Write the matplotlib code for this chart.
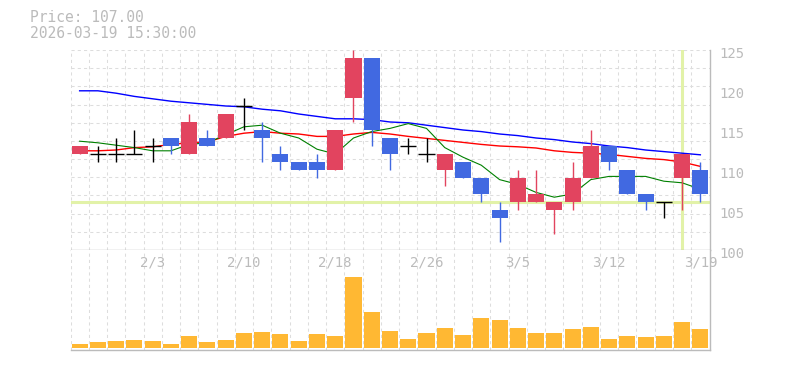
import matplotlib
matplotlib.use("Agg")
import matplotlib.pyplot as plt
import matplotlib.transforms as mtransforms
import numpy as np

# ---- data ----
dates = ["1/28", "1/29", "1/30", "2/2", "2/3", "2/4", "2/5", "2/6", "2/9", "2/10",
         "2/12", "2/13", "2/16", "2/17", "2/18", "2/19", "2/20", "2/24", "2/25", "2/26",
         "2/27", "3/2", "3/3", "3/4", "3/5", "3/6", "3/9", "3/10", "3/11", "3/12",
         "3/13", "3/16", "3/17", "3/18", "3/19"]
opens = [112, 112, 112, 112, 113, 114, 112, 114, 114, 118, 115, 112, 111, 111, 110, 119, 124, 114,
         113, 112, 110, 111, 109, 105, 106, 106, 105, 106, 109, 113, 110, 107, 106, 109, 110]
highs = [113, 113, 114, 115, 114, 114, 117, 115, 117, 119, 116, 113, 111, 112, 115, 125, 124, 114,
         114, 114, 112, 111, 109, 106, 110, 110, 106, 111, 115, 113, 110, 107, 106, 112, 111]
lows = [112, 111, 111, 112, 111, 112, 112, 113, 114, 115, 111, 110, 110, 109, 110, 116, 113, 110,
        112, 111, 108, 109, 106, 101, 105, 106, 102, 105, 109, 110, 107, 105, 104, 105, 106]
closes = [113, 112, 112, 112, 113, 113, 116, 113, 117, 118, 114, 111, 110, 110, 115, 124, 115, 112,
          113, 112, 112, 109, 107, 104, 109, 107, 106, 109, 113, 111, 107, 106, 106, 112, 107]
volumes = [110, 170, 200, 230, 200, 110, 350, 170, 230, 440, 470, 410, 200, 410, 350, 2120, 1070, 500,
           260, 440, 590, 380, 890, 830, 590, 440, 440, 560, 620, 260, 350, 320, 350, 770, 560]

ma_short = [113.6, 113.4, 113.1, 112.8, 112.4, 112.4, 113.2, 113.4, 114.4, 115.4, 115.6, 114.6,
            114.0, 112.6, 112.0, 114.0, 114.8, 115.2, 115.8, 115.2, 112.8, 111.6, 110.6, 108.8,
            108.2, 107.2, 106.6, 107.0, 108.8, 109.2, 109.2, 109.2, 108.6, 108.4, 107.6]
ma_mid = [112.4, 112.4, 112.5, 112.8, 112.9, 113.2, 113.4, 113.5, 114.2, 114.6, 114.8, 114.6,
          114.5, 114.2, 114.2, 114.5, 114.7, 114.5, 114.2, 113.95, 113.7, 113.45, 113.2, 113.0,
          112.9, 112.75, 112.4, 112.2, 112.1, 111.95, 111.7, 111.45, 111.3, 111.0, 110.45]
ma_long = [119.9, 119.9, 119.6, 119.2, 118.9, 118.6, 118.4, 118.2, 118.0, 117.9, 117.6, 117.4,
           117.0, 116.7, 116.4, 116.4, 116.3, 116.0, 115.9, 115.6, 115.3, 115.0, 114.8, 114.5,
           114.3, 114.0, 113.8, 113.5, 113.3, 113.0, 112.8, 112.5, 112.3, 112.1, 111.9]

price_ticks = [100, 105, 110, 115, 120, 125]
cursor_index = 33
cursor_price = 106
header_lines = ["Price: 107.00", "2026-03-19 15:30:00"]

# ---- style ----
UP = "#E2445F"
DOWN = "#4169E1"
VOL = "#FFB833"
GRID = "#dddddd"
TEXT = "#bbbbbb"
FONT = "DejaVu Sans Mono"
W, H = 785, 370

fig = plt.figure(figsize=(W / 100, H / 100), dpi=100)
ax = fig.add_axes([70.5 / W, (H - 250) / H, 639 / W, 200 / H])
axv = fig.add_axes([70.5 / W, (H - 350) / H, 639 / W, 100 / H])

x = np.arange(len(dates))
for a in (ax, axv):
    a.set_xlim(-0.5, len(dates) - 0.5)
    for s in ("top", "left"):
        a.spines[s].set_visible(False)
    for s in ("bottom", "right"):
        a.spines[s].set_color(TEXT)
        a.spines[s].set_linewidth(1)
    a.set_xticks([])
    for gx in np.arange(-0.5, len(dates) - 0.5, 1):
        a.axvline(gx, color=GRID, lw=0.75, ls=(0, (3, 3)), zorder=0)

ax.set_ylim(100, 125)
for gy in np.linspace(100, 125, 12)[1:]:
    ax.axhline(gy, color=GRID, lw=0.75, ls=(0, (3, 3)), zorder=0)

# crosshair
ax.axhline(cursor_price, color="#E2F2A8", lw=2.2, zorder=1)
ax.axvline(cursor_index, color="#E2F2A8", lw=2.2, zorder=1)

# moving averages
ax.plot(x, ma_long, color="blue", lw=1.0, zorder=2)
ax.plot(x, ma_mid, color="red", lw=1.0, zorder=2)
ax.plot(x, ma_short, color="green", lw=0.8, zorder=2)

# candles
bw = 0.88
for i in range(len(dates)):
    o, h, l, c = opens[i], highs[i], lows[i], closes[i]
    if c == o:
        col = "black"
        ax.vlines(i, l, h, color=col, lw=1.0, zorder=3)
        ax.hlines(c, i - bw / 2, i + bw / 2, color=col, lw=1.0, zorder=3)
        continue
    col = UP if c > o else DOWN
    ax.vlines(i, l, h, color=col, lw=1.0, zorder=3)
    ax.bar(i, abs(c - o), bottom=min(o, c), width=bw, color=col, zorder=4)

ax.set_yticks(price_ticks)
ax.yaxis.tick_right()
ax.tick_params(axis="y", length=0, pad=7, labelsize=10, labelcolor=TEXT)
shift = mtransforms.ScaledTranslation(0, -3 / 100, fig.dpi_scale_trans)
for lab in ax.get_yticklabels():
    lab.set_fontfamily(FONT)
    lab.set_transform(lab.get_transform() + shift)

# volume
axv.bar(x, volumes, width=bw, color=VOL, zorder=2)
axv.set_ylim(-69, 2931)
axv.set_yticks([])
trans = mtransforms.blended_transform_factory(axv.transData, axv.transAxes)
for i in range(len(dates)):
    if (len(dates) - 1 - i) % 5 == 0:
        axv.text(i, 0.88, dates[i], transform=trans, ha="center", va="center",
                 fontsize=10, color=TEXT, family=FONT, zorder=5)

# header text
fig.text(30 / W, 1 - 18 / H, header_lines[0], ha="left", va="center",
         fontsize=10.5, color=TEXT, family=FONT)
fig.text(30 / W, 1 - 33 / H, header_lines[1], ha="left", va="center",
         fontsize=10.5, color=TEXT, family=FONT)

fig.savefig("out.png", dpi=100)
